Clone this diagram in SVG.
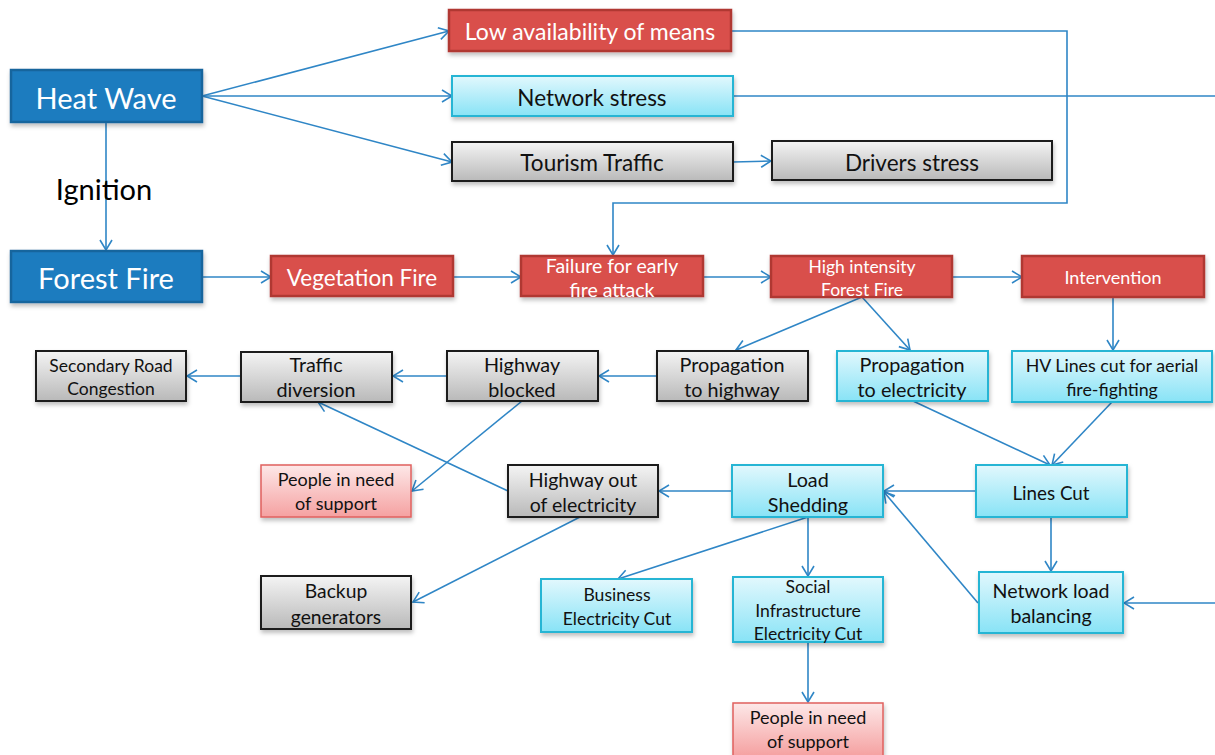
<svg xmlns="http://www.w3.org/2000/svg" width="1215" height="755" viewBox="0 0 1215 755">
<defs>
<linearGradient id="gGray" x1="0" y1="0" x2="0" y2="1"><stop offset="0" stop-color="#f4f4f4"/><stop offset="1" stop-color="#b9b9b9"/></linearGradient>
<linearGradient id="gCyan" x1="0" y1="0" x2="0" y2="1"><stop offset="0" stop-color="#e2f8fd"/><stop offset="1" stop-color="#88e3f6"/></linearGradient>
<linearGradient id="gPink" x1="0" y1="0" x2="0" y2="1"><stop offset="0" stop-color="#fde8e8"/><stop offset="1" stop-color="#f5a1a1"/></linearGradient>
<filter id="sh" x="-10%" y="-10%" width="120%" height="140%"><feDropShadow dx="1" dy="3" stdDeviation="2" flood-color="#000" flood-opacity="0.25"/></filter>
<marker id="ar" viewBox="0 0 12 14" refX="11" refY="7" markerWidth="12" markerHeight="14" markerUnits="userSpaceOnUse" orient="auto"><path d="M1,1 L11,7 L1,13" fill="none" stroke="#2f86c6" stroke-width="1.6"/></marker>
</defs>
<style>
text{font-family:Lato,"Liberation Sans",sans-serif;text-anchor:middle;dominant-baseline:central}
.blue rect{fill:#1f7bbf;stroke:#19659d;stroke-width:2.5}
.blue text{fill:#fff;font-size:29px}
.red rect{fill:#d9504c;stroke:#b03733;stroke-width:2.5}
.gray rect{fill:url(#gGray);stroke:#1a1a1a;stroke-width:2}
.cyan rect{fill:url(#gCyan);stroke:#27b5d4;stroke-width:2}
.pink rect{fill:url(#gPink);stroke:#e0605e;stroke-width:1.5}
.node rect{filter:url(#sh)}
.node text{fill:#111}
.red text,.blue text{fill:#fff}
#conn path,#conn line{fill:none;stroke:#2f86c6;stroke-width:1.6}
.a{marker-end:url(#ar)}
</style>
<g id="conn">
<line class="a" x1="202" y1="96" x2="449" y2="31"/>
<line class="a" x1="202" y1="96" x2="452" y2="96"/>
<line class="a" x1="202" y1="96" x2="452" y2="162"/>
<line class="a" x1="106" y1="122" x2="106" y2="250"/>
<line class="a" x1="733" y1="162" x2="771" y2="161"/>
<path class="a" d="M731,31 H1067 V203 H613 V255"/>
<path d="M733,96 H1215"/>
<path class="a" d="M1215,603 H1124"/>
<line class="a" x1="202" y1="277" x2="271" y2="277"/>
<line class="a" x1="453" y1="277" x2="521" y2="277"/>
<line class="a" x1="703" y1="277" x2="771" y2="277"/>
<line class="a" x1="952" y1="277" x2="1022" y2="277"/>
<line class="a" x1="862" y1="297" x2="736" y2="350"/>
<line class="a" x1="862" y1="297" x2="910" y2="350"/>
<line class="a" x1="1113" y1="297" x2="1113" y2="350"/>
<line class="a" x1="657" y1="376" x2="599" y2="376"/>
<line class="a" x1="447" y1="376" x2="393" y2="376"/>
<line class="a" x1="241" y1="376" x2="187" y2="376"/>
<line class="a" x1="522" y1="401" x2="412" y2="491"/>
<line class="a" x1="508" y1="491" x2="318" y2="402"/>
<line class="a" x1="580" y1="517" x2="413" y2="602"/>
<line class="a" x1="913" y1="401" x2="1050" y2="465"/>
<line class="a" x1="1112" y1="402" x2="1052" y2="465"/>
<line class="a" x1="976" y1="491" x2="884" y2="491"/>
<line class="a" x1="732" y1="491" x2="659" y2="491"/>
<line class="a" x1="1051" y1="517" x2="1051" y2="571"/>
<line class="a" x1="978" y1="603" x2="884" y2="492"/>
<line class="a" x1="808" y1="517" x2="618" y2="579"/>
<line class="a" x1="808" y1="517" x2="808" y2="576"/>
<line class="a" x1="808" y1="642" x2="808" y2="702"/>
</g>
<text x="104" y="188" style="font-size:29px;fill:#000">Ignition</text>
<g id="heat-wave" class="node blue"><rect x="11" y="70" width="191" height="52"/><text x="106" y="97">Heat Wave</text></g>
<g id="forest-fire" class="node blue"><rect x="11" y="251" width="191" height="51"/><text x="106" y="277">Forest Fire</text></g>
<g id="low-availability" class="node red"><rect x="449" y="10" width="282" height="41"/><text x="590" y="31" style="font-size:23px">Low availability of means</text></g>
<g id="network-stress" class="node cyan"><rect x="452" y="76" width="281" height="40"/><text x="592" y="97" style="font-size:22.5px">Network stress</text></g>
<g id="tourism-traffic" class="node gray"><rect x="452" y="142" width="281" height="39"/><text x="592" y="162" style="font-size:22.5px">Tourism  Traffic</text></g>
<g id="drivers-stress" class="node gray"><rect x="772" y="141" width="280" height="39"/><text x="912" y="162" style="font-size:22.5px">Drivers stress</text></g>
<g id="vegetation-fire" class="node red"><rect x="271" y="256" width="182" height="40"/><text x="362" y="277" style="font-size:22.5px">Vegetation Fire</text></g>
<g id="failure-early" class="node red"><rect x="521" y="256" width="182" height="40"/><text x="612" y="265" style="font-size:19.5px">Failure for early</text><text x="612" y="289" style="font-size:19.5px">fire attack</text></g>
<g id="high-intensity" class="node red"><rect x="771" y="256" width="181" height="41"/><text x="862" y="266" style="font-size:17.5px">High intensity</text><text x="862" y="289" style="font-size:17.5px">Forest Fire</text></g>
<g id="intervention" class="node red"><rect x="1022" y="256" width="182" height="41"/><text x="1113" y="277" style="font-size:18px">Intervention</text></g>
<g id="secondary-road" class="node gray"><rect x="36" y="351" width="150" height="50"/><text x="111" y="365" style="font-size:17.5px">Secondary Road</text><text x="111" y="388" style="font-size:17.5px">Congestion</text></g>
<g id="traffic-diversion" class="node gray"><rect x="241" y="352" width="151" height="50"/><text x="316" y="364" style="font-size:19.8px">Traffic</text><text x="316" y="389" style="font-size:19.8px">diversion</text></g>
<g id="highway-blocked" class="node gray"><rect x="447" y="351" width="151" height="50"/><text x="522" y="364" style="font-size:19.8px">Highway</text><text x="522" y="389" style="font-size:19.8px">blocked</text></g>
<g id="propagation-highway" class="node gray"><rect x="657" y="351" width="151" height="50"/><text x="732" y="364" style="font-size:19.8px">Propagation</text><text x="732" y="389" style="font-size:19.8px">to highway</text></g>
<g id="propagation-electricity" class="node cyan"><rect x="837" y="351" width="151" height="50"/><text x="912" y="364" style="font-size:19.8px">Propagation</text><text x="912" y="389" style="font-size:19.8px">to electricity</text></g>
<g id="hv-lines" class="node cyan"><rect x="1012" y="351" width="200" height="51"/><text x="1112" y="365" style="font-size:17.8px">HV Lines cut for aerial</text><text x="1112" y="389" style="font-size:17.8px">fire-fighting</text></g>
<g id="people-support-1" class="node pink"><rect x="261" y="465" width="150" height="52"/><text x="336" y="479" style="font-size:18px">People in need</text><text x="336" y="503" style="font-size:18px">of support</text></g>
<g id="highway-out" class="node gray"><rect x="508" y="465" width="150" height="52"/><text x="583" y="479" style="font-size:19.5px">Highway out</text><text x="583" y="504" style="font-size:19.5px">of electricity</text></g>
<g id="load-shedding" class="node cyan"><rect x="732" y="465" width="151" height="52"/><text x="808" y="479" style="font-size:19.8px">Load</text><text x="808" y="504" style="font-size:19.8px">Shedding</text></g>
<g id="lines-cut" class="node cyan"><rect x="976" y="465" width="151" height="52"/><text x="1051" y="492" style="font-size:18.8px">Lines Cut</text></g>
<g id="backup-generators" class="node gray"><rect x="261" y="576" width="150" height="53"/><text x="336" y="590" style="font-size:19.3px">Backup</text><text x="336" y="616" style="font-size:19.3px">generators</text></g>
<g id="business-cut" class="node cyan"><rect x="541" y="579" width="151" height="53"/><text x="617" y="594" style="font-size:17.6px">Business</text><text x="617" y="618" style="font-size:17.6px">Electricity Cut</text></g>
<g id="social-cut" class="node cyan"><rect x="733" y="577" width="150" height="65"/><text x="808" y="586" style="font-size:17.6px">Social</text><text x="808" y="610" style="font-size:17.6px">Infrastructure</text><text x="808" y="633" style="font-size:17.6px">Electricity Cut</text></g>
<g id="network-load" class="node cyan"><rect x="979" y="572" width="144" height="61"/><text x="1051" y="590" style="font-size:19.6px">Network load</text><text x="1051" y="615" style="font-size:19.6px">balancing</text></g>
<g id="people-support-2" class="node pink"><rect x="733" y="703" width="150" height="53"/><text x="808" y="717" style="font-size:18px">People in need</text><text x="808" y="741" style="font-size:18px">of support</text></g>
</svg>
